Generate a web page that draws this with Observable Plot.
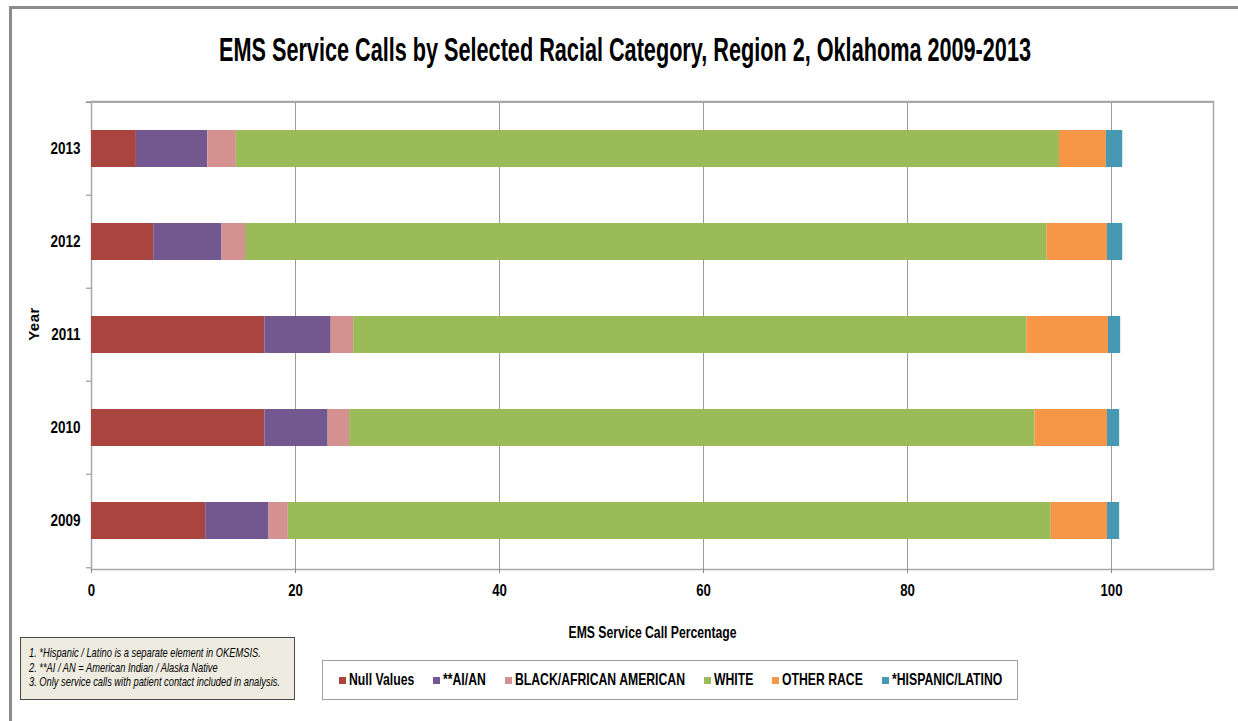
<!DOCTYPE html>
<html>
<head>
<meta charset="utf-8">
<script src="https://cdn.jsdelivr.net/npm/d3@7"></script>
<script src="https://cdn.jsdelivr.net/npm/@observablehq/plot@0.6"></script>
<style>
  html, body { margin: 0; padding: 0; background: #fff; }
  #wrap { position: relative; width: 1238px; height: 721px; overflow: hidden; font-family: "Liberation Sans", Arial, sans-serif; }
  #frame { position: absolute; left: 9px; top: 6px; width: 1240px; height: 740px; border-left: 3px solid #8c8c8c; border-top: 3px solid #8c8c8c; }
  #title { position: absolute; left: 0; top: 31px; white-space: nowrap; font-weight: bold; font-size: 33px; line-height: 38px; color: #000; transform-origin: 0 0; }
  #chart { position: absolute; left: 0; top: 0; }
  #notes { position: absolute; left: 20px; top: 637px; width: 275px; height: 63px; background: #eeece1; border: 1px solid #4a4a4a; box-sizing: border-box; padding: 8px 0 0 8px; font-style: italic; font-size: 13.5px; line-height: 14.6px; color: #000; }
  #notes .ln { white-space: nowrap; transform-origin: 0 50%; }
  #legend { position: absolute; left: 322px; top: 660px; width: 696px; height: 40px; border: 1px solid #a0a0a0; box-sizing: border-box; display: flex; align-items: center; padding-left: 16px; font-weight: bold; font-size: 17px; color: #000; }
  #legend .item { display: flex; align-items: center; margin-right: 19px; }
  #legend .sw { width: 7px; height: 7px; margin-right: 3px; flex: none; }
  #legend .tw { overflow: visible; white-space: nowrap; }
  #legend .tx { display: inline-block; transform-origin: 0 50%; }
  #ylab { position: absolute; left: 33px; top: 324px; transform: translate(-50%, -50%) rotate(-90deg); font-weight: bold; font-size: 15px; letter-spacing: 0.5px; }
</style>
</head>
<body>
<div id="wrap">
  <div id="frame"></div>
  <div id="chart"></div>
  <div id="title"></div>
  <div id="ylab">Year</div>
  <div id="notes"></div>
  <div id="legend"></div>
</div>
<script>
// ---- data ----
const titleText = "EMS Service Calls by Selected Racial Category, Region 2, Oklahoma 2009-2013";
const years = ["2013", "2012", "2011", "2010", "2009"];
const categories = ["Null Values", "**AI/AN", "BLACK/AFRICAN AMERICAN", "WHITE", "OTHER RACE", "*HISPANIC/LATINO"];
const colors = ["#A9443F", "#72588F", "#D4918F", "#9BBB59", "#F79646", "#4798B3"];
const nullValues = [4.4, 6.1, 17.0, 17.0, 11.2];
const aian = [7.0, 6.7, 6.5, 6.2, 6.2];
const black = [2.8, 2.3, 2.2, 2.1, 1.9];
const white = [80.7, 78.6, 66.0, 67.2, 74.8];
const otherRace = [4.6, 5.9, 8.0, 7.1, 5.5];
const hispanic = [1.6, 1.5, 1.2, 1.2, 1.2];
const xTicks = [0, 20, 40, 60, 80, 100];
const gridX = [20, 40, 60, 80, 100];
const xLabel = "EMS Service Call Percentage";
const notes = [
  "1. *Hispanic / Latino is a separate element in OKEMSIS.",
  "2.  **AI / AN = American Indian / Alaska Native",
  "3.  Only service calls with patient contact included in analysis."
];

const seriesValues = [nullValues, aian, black, white, otherRace, hispanic];
const rows = [];
years.forEach((y, i) => {
  categories.forEach((c, j) => rows.push({year: y, cat: c, value: seriesValues[j][i], order: j}));
});

const W = 1238, H = 721;
const mT = 101, mB = 152, mL = 91, mR = 25;
const step = (H - mT - mB) / years.length;
const fontFam = '"Liberation Sans", Arial, sans-serif';

const chart = Plot.plot({
  width: W,
  height: H,
  marginTop: mT,
  marginBottom: mB,
  marginLeft: mL,
  marginRight: mR,
  style: {fontFamily: fontFam, fontSize: "17px", fontWeight: "bold", color: "#000", background: "transparent"},
  x: {domain: [0, 110], ticks: xTicks},
  y: {domain: years, paddingInner: 0.6, paddingOuter: 0.3, align: 0.5},
  color: {domain: categories, range: colors},
  marks: [
    Plot.ruleX(gridX, {stroke: "#9a9a9a", strokeWidth: 1, strokeOpacity: 1}),
    Plot.ruleY(years.slice(0, 1), {y: d => d, x1: -0.5, x2: 110, dy: -step / 2, stroke: "#a8a8a8", strokeWidth: 1.5}),
    Plot.frame({stroke: "#a8a8a8", strokeWidth: 1.5}),
    Plot.barX(rows, Plot.stackX({x: "value", y: "year", fill: "cat", order: categories, inset: 0})),
    Plot.ruleY(years, {y: d => d, x1: -0.5, x2: 0, dy: -step / 2, stroke: "#888"}),
    Plot.ruleY(years.slice(-1), {y: d => d, x1: -0.5, x2: 0, dy: step / 2, stroke: "#888"}),
    Plot.axisY({tickSize: 0, tickPadding: 11, label: null, fontSize: 17, fontWeight: "bold"}),
    Plot.axisX({ticks: xTicks, tickSize: 4, tickPadding: 10, stroke: "#888", fontSize: 17, fontWeight: "bold",
      label: xLabel, labelAnchor: "center", labelArrow: "none", labelOffset: 68})
  ]
});
document.getElementById("chart").appendChild(chart);

// condense SVG texts horizontally (reference uses a narrow typeface)
function condense(selector, sampleText, targetW) {
  const texts = Array.from(chart.querySelectorAll(selector));
  if (!texts.length) return;
  const sample = texts.find(t => t.textContent === sampleText) || texts[0];
  const w = sample.getBBox().width;
  const s = (w > 0 && isFinite(targetW / w)) ? targetW / w : 0.75;
  texts.forEach(t => {
    const x = parseFloat(t.getAttribute("x")) || 0;
    const tr = t.getAttribute("transform") || "";
    t.setAttribute("transform", `${tr} translate(${x},0) scale(${s},1) translate(${-x},0)`);
  });
}
condense('g[aria-label="y-axis tick label"] text', "2013", 30);
condense('g[aria-label="x-axis tick label"] text', "100", 22);
condense('g[aria-label="x-axis label"] text', xLabel, 168);

// HTML texts
const titleEl = document.getElementById("title");
titleEl.textContent = titleText;
const tw = titleEl.getBoundingClientRect().width;
const ts = 812 / tw;
titleEl.style.left = (625 - 812 / 2) + "px";
titleEl.style.transform = `scaleX(${ts})`;

const notesEl = document.getElementById("notes");
notes.forEach(n => {
  const d = document.createElement("div");
  d.className = "ln";
  const sp = document.createElement("span");
  sp.textContent = n;
  sp.style.display = "inline-block";
  sp.style.transformOrigin = "0 50%";
  d.appendChild(sp);
  notesEl.appendChild(d);
});
const nspans = notesEl.querySelectorAll("span");
const ns = 251 / nspans[2].getBoundingClientRect().width;
nspans.forEach(sp => sp.style.transform = `scaleX(${ns})`);

const legendEl = document.getElementById("legend");
categories.forEach((c, j) => {
  const item = document.createElement("div");
  item.className = "item";
  item.innerHTML = `<div class="sw" style="background:${colors[j]}"></div><div class="tw"><span class="tx"></span></div>`;
  item.querySelector(".tx").textContent = c;
  legendEl.appendChild(item);
});
const txs = Array.from(legendEl.querySelectorAll(".tx"));
const ls = 170 / txs[2].getBoundingClientRect().width;
txs.forEach(t => {
  const w = t.getBoundingClientRect().width;
  t.style.transform = `scaleX(${ls})`;
  t.parentNode.style.width = (w * ls) + "px";
});
</script>
</body>
</html>
